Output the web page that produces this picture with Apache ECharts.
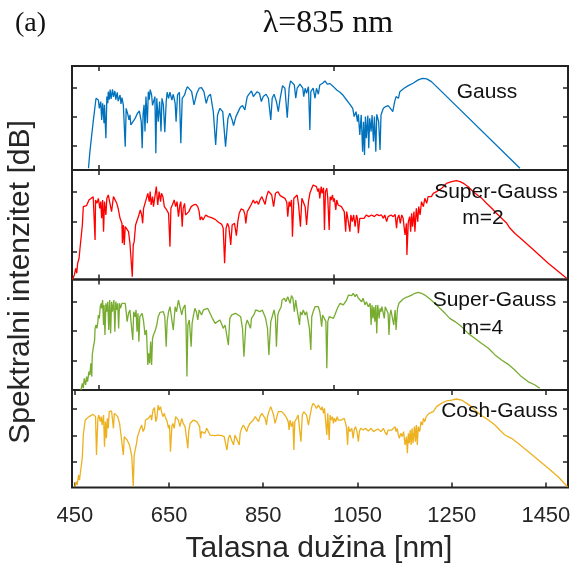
<!DOCTYPE html>
<html><head><meta charset="utf-8">
<script src="https://cdn.jsdelivr.net/npm/echarts@6.0.0/dist/echarts.min.js"></script>
<style>html,body{margin:0;padding:0;background:#fff}#c{width:576px;height:570px}</style>
</head><body><div id="c"></div><script>
// ---- axis values ----
const xMin = 444, xMax = 1497;
const xTicksInner = [500, 1000];
const xTickLabels = [450, 650, 850, 1050, 1250, 1450];
const yTicks = [-20, -40, -60];
const yRangeGauss = [-77, -4.5];
const yRangeSG2 = [-78, -5.7];
const yRangeSG4 = [-79.9, -4.95];
const yRangeCosh = [-79.7, -5.55];

// ---- series values [wavelength nm, intensity dB] ----
const gauss = [[479,-75.8],[482,-64.2],[489,-43.3],[495,-27.0],[500,-28.2],[502,-34.0],[505,-29.3],[507,-42.1],[509,-30.5],[512,-44.4],[513,-31.6],[516,-54.9],[518,-25.8],[520,-30.5],[521,-22.4],[523,-28.0],[525,-21.0],[527,-27.5],[530,-20.7],[532,-26.0],[535,-21.9],[537,-28.0],[540,-22.8],[542,-29.0],[546,-24.7],[548,-31.0],[550,-26.5],[553,-31.6],[557,-60.7],[559,-34.0],[562,-37.5],[565,-42.1],[567,-38.6],[569,-45.6],[573,-44.4],[578,-41.0],[583,-37.5],[587,-35.8],[591,-43.3],[593,-61.8],[595,-37.5],[597,-31.6],[599,-50.2],[601,-25.8],[604,-44.4],[606,-22.4],[608,-28.0],[610,-21.0],[613,-24.7],[615,-32.0],[617,-31.6],[620,-25.8],[622,-65.3],[624,-27.0],[627,-43.3],[630,-29.3],[633,-50.2],[635,-27.0],[638,-31.6],[641,-50.7],[644,-29.3],[646,-22.8],[649,-27.0],[652,-22.8],[656,-28.2],[659,-24.2],[663,-30.5],[665,-43.3],[668,-24.7],[672,-22.8],[675,-58.4],[678,-27.0],[683,-24.7],[686,-21.2],[689,-18.9],[693,-18.2],[698,-22.4],[703,-31.6],[709,-23.5],[714,-20.0],[719,-19.6],[724,-22.4],[729,-30.5],[733,-25.8],[738,-24.2],[744,-36.3],[749,-59.5],[753,-38.6],[758,-34.0],[764,-36.3],[770,-60.7],[775,-41.0],[779,-37.5],[784,-42.1],[787,-46.0],[792,-39.8],[801,-33.5],[806,-32.1],[811,-35.1],[816,-25.8],[820,-24.7],[825,-21.9],[829,-25.8],[833,-25.8],[837,-22.4],[842,-23.5],[846,-29.3],[850,-25.8],[856,-24.2],[861,-27.0],[866,-42.1],[869,-27.0],[873,-24.2],[878,-29.3],[882,-36.3],[886,-27.0],[891,-18.2],[896,-20.0],[901,-40.5],[905,-20.0],[908,-14.9],[912,-15.4],[916,-17.7],[919,-27.0],[922,-20.0],[928,-17.2],[934,-20.0],[936,-25.8],[939,-20.0],[942,-23.5],[946,-18.9],[949,-49.1],[951,-22.4],[956,-20.0],[960,-27.0],[963,-20.0],[967,-24.2],[970,-17.7],[976,-16.5],[981,-14.9],[986,-17.2],[992,-16.8],[999,-18.9],[1006,-21.2],[1013,-22.8],[1020,-25.1],[1027,-28.2],[1034,-31.2],[1040,-34.0],[1043,-39.8],[1047,-36.3],[1050,-43.3],[1052,-38.2],[1055,-52.6],[1058,-38.6],[1061,-64.2],[1063,-43.3],[1065,-66.5],[1067,-39.8],[1069,-54.9],[1072,-39.1],[1074,-61.8],[1076,-41.0],[1079,-50.2],[1081,-38.6],[1084,-57.2],[1086,-39.8],[1089,-64.2],[1091,-38.2],[1095,-43.3],[1098,-63.0],[1100,-38.6],[1105,-34.0],[1110,-32.8],[1115,-32.1],[1120,-34.0],[1125,-36.3],[1129,-29.3],[1132,-25.8],[1137,-27.0],[1140,-22.4],[1144,-23.5],[1149,-20.0],[1158,-18.2],[1168,-16.5],[1179,-14.2],[1188,-13.1],[1197,-13.5],[1207,-15.4],[1218,-18.9],[1395,-75.8]];

const superGauss2 = [[445,-78],[449,-75.0],[452,-70.6],[454,-73.9],[456,-67.3],[459,-64.0],[461,-57.4],[463,-56.3],[466,-42.0],[468,-29.9],[472,-28.8],[475,-29.2],[480,-25.5],[484,-24.4],[489,-23.3],[492,-24.4],[493,-51.9],[494,-25.5],[497,-27.7],[500,-24.4],[503,-31.0],[505,-26.6],[507,-37.6],[509,-25.5],[511,-46.4],[513,-26.6],[516,-35.4],[518,-24.4],[521,-22.2],[525,-21.8],[528,-33.2],[532,-23.3],[535,-24.4],[539,-27.7],[542,-31.0],[546,-37.6],[550,-40.9],[551,-54.1],[553,-42.0],[555,-55.2],[557,-43.1],[560,-44.2],[564,-46.4],[567,-54.1],[571,-53.0],[572,-76.1],[574,-55.2],[576,-53.0],[579,-42.0],[583,-40.9],[586,-35.4],[589,-32.1],[592,-35.4],[594,-40.9],[596,-31.0],[599,-27.7],[602,-28.8],[605,-21.1],[608,-26.6],[610,-20.0],[612,-28.8],[615,-23.3],[617,-29.9],[620,-23.3],[623,-16.7],[626,-28.8],[629,-20.0],[632,-26.6],[634,-21.1],[637,-23.3],[640,-29.9],[645,-32.1],[649,-34.3],[652,-56.3],[654,-31.0],[657,-28.8],[661,-25.5],[664,-29.9],[667,-26.6],[670,-36.5],[673,-28.8],[675,-26.6],[678,-43.1],[680,-31.0],[683,-27.7],[685,-35.4],[689,-36.5],[692,-33.2],[697,-29.9],[702,-28.8],[707,-28.4],[711,-29.9],[714,-33.2],[716,-38.7],[719,-36.5],[722,-38.7],[725,-37.6],[728,-35.4],[731,-34.3],[733,-36.5],[740,-37.2],[748,-38.3],[755,-40.2],[762,-41.6],[765,-44.2],[768,-67.3],[771,-44.2],[774,-40.9],[777,-43.1],[781,-55.2],[784,-42.0],[789,-40.9],[793,-49.0],[796,-39.8],[799,-34.3],[803,-31.4],[808,-32.1],[811,-35.0],[813,-40.9],[816,-33.2],[820,-31.0],[824,-28.8],[829,-25.5],[832,-27.7],[836,-26.2],[840,-28.4],[843,-25.5],[847,-23.3],[851,-24.4],[854,-28.4],[857,-23.3],[861,-19.6],[865,-18.9],[868,-22.2],[872,-29.9],[876,-21.1],[881,-20.0],[886,-22.6],[890,-23.3],[896,-24.4],[900,-27.0],[902,-36.5],[905,-26.6],[907,-29.9],[910,-25.5],[912,-49.7],[915,-24.4],[919,-23.3],[922,-22.2],[925,-28.8],[929,-43.1],[932,-24.4],[935,-25.5],[939,-29.9],[942,-42.0],[946,-26.6],[949,-21.1],[953,-17.8],[956,-15.6],[960,-16.7],[963,-16.7],[966,-20.0],[968,-17.8],[970,-24.4],[973,-16.7],[975,-21.1],[978,-17.4],[980,-45.3],[982,-20.0],[985,-17.8],[987,-24.4],[990,-45.3],[992,-23.3],[994,-25.5],[997,-22.2],[999,-26.6],[1001,-24.4],[1004,-32.1],[1006,-25.5],[1009,-28.8],[1013,-27.7],[1016,-29.9],[1020,-31.0],[1022,-33.2],[1025,-46.4],[1027,-33.2],[1029,-36.5],[1032,-35.4],[1034,-46.4],[1036,-35.4],[1039,-39.8],[1042,-35.4],[1045,-43.1],[1048,-35.4],[1050,-37.6],[1052,-47.5],[1055,-37.6],[1059,-36.5],[1064,-37.6],[1069,-35.4],[1074,-36.5],[1080,-35.4],[1086,-36.5],[1091,-35.0],[1096,-35.8],[1101,-35.4],[1105,-37.6],[1108,-35.4],[1112,-39.8],[1115,-36.5],[1121,-35.4],[1126,-36.5],[1130,-35.0],[1133,-44.2],[1135,-37.6],[1138,-35.4],[1141,-40.9],[1144,-35.4],[1147,-37.6],[1151,-48.6],[1154,-40.9],[1155,-61.8],[1158,-39.8],[1161,-36.5],[1163,-46.4],[1165,-34.3],[1167,-43.1],[1170,-33.2],[1172,-46.4],[1175,-31.0],[1178,-39.8],[1180,-29.9],[1183,-35.4],[1186,-26.6],[1190,-29.9],[1193,-24.4],[1197,-27.7],[1200,-23.3],[1204,-24.4],[1207,-23.3],[1211,-21.1],[1218,-20.0],[1229,-17.8],[1239,-14.5],[1250,-13.4],[1260,-12.7],[1268,-13.4],[1275,-14.5],[1285,-16.7],[1296,-20.0],[1306,-22.6],[1314,-24.4],[1324,-27.7],[1335,-31.0],[1345,-34.3],[1356,-37.6],[1367,-40.9],[1374,-44.2],[1384,-47.5],[1398,-51.2],[1420,-57.4],[1455,-67.3],[1494,-77.2]];

const superGauss4 = [[463,-79.9],[466,-75.4],[468,-78.7],[470,-72.0],[473,-76.5],[475,-70.8],[477,-74.2],[480,-67.4],[482,-69.7],[484,-61.8],[486,-70.8],[487,-56.1],[489,-51.6],[492,-46.0],[493,-38.1],[495,-35.8],[497,-38.1],[499,-33.5],[500,-29.0],[502,-31.3],[504,-23.4],[506,-21.1],[507,-24.5],[509,-18.9],[511,-35.8],[512,-22.2],[514,-42.6],[516,-21.1],[518,-26.8],[520,-20.0],[522,-39.2],[524,-18.9],[526,-41.5],[528,-20.0],[530,-26.8],[533,-18.9],[535,-40.3],[537,-20.0],[539,-25.6],[541,-21.1],[543,-38.1],[545,-21.1],[547,-24.5],[550,-21.1],[553,-22.2],[557,-21.1],[559,-26.8],[561,-33.5],[564,-27.9],[567,-25.6],[571,-24.5],[573,-46.0],[575,-26.8],[578,-30.2],[580,-25.6],[582,-40.3],[584,-27.9],[586,-47.1],[588,-30.2],[591,-29.0],[593,-27.9],[596,-33.5],[599,-42.6],[602,-39.2],[605,-62.9],[607,-55.0],[609,-61.8],[611,-47.1],[613,-62.9],[615,-44.8],[617,-42.6],[620,-40.3],[624,-35.8],[627,-30.2],[631,-27.2],[634,-27.9],[638,-26.8],[641,-30.2],[644,-50.5],[646,-33.5],[649,-26.8],[652,-23.4],[656,-24.5],[659,-39.2],[663,-23.4],[666,-26.8],[670,-18.9],[673,-20.0],[677,-29.0],[680,-24.5],[684,-22.2],[686,-33.5],[688,-70.8],[690,-35.8],[693,-32.4],[695,-31.3],[697,-50.5],[699,-34.7],[702,-29.0],[705,-24.5],[708,-26.8],[711,-32.4],[714,-25.6],[716,-24.5],[719,-29.0],[723,-25.6],[726,-24.5],[732,-24.5],[737,-27.9],[742,-31.3],[748,-34.7],[753,-33.5],[758,-32.4],[762,-35.3],[765,-38.1],[769,-35.8],[772,-36.9],[776,-49.4],[779,-31.3],[783,-29.0],[787,-28.6],[791,-27.9],[797,-29.0],[802,-30.2],[806,-38.1],[809,-57.3],[813,-35.8],[816,-32.4],[820,-33.5],[823,-38.1],[825,-31.3],[830,-29.0],[834,-25.6],[838,-24.5],[843,-26.8],[848,-25.6],[852,-26.8],[855,-31.3],[859,-38.1],[862,-56.1],[866,-33.5],[869,-30.2],[873,-25.6],[876,-31.3],[878,-50.5],[881,-29.0],[883,-26.8],[888,-23.4],[890,-18.9],[895,-17.7],[898,-20.0],[902,-16.6],[905,-17.7],[907,-21.1],[910,-15.9],[913,-17.7],[916,-26.8],[919,-18.9],[922,-25.6],[924,-26.8],[927,-35.8],[929,-26.8],[932,-29.0],[935,-25.6],[939,-29.0],[942,-26.8],[946,-27.9],[948,-38.1],[951,-52.8],[953,-30.2],[956,-26.8],[960,-23.4],[963,-24.5],[967,-23.4],[970,-26.8],[972,-31.3],[974,-36.9],[976,-29.0],[980,-30.2],[983,-33.5],[985,-65.2],[987,-33.5],[990,-30.2],[994,-29.0],[999,-31.3],[1002,-29.0],[1006,-25.6],[1009,-23.4],[1013,-21.1],[1016,-20.0],[1020,-22.2],[1023,-23.4],[1027,-18.9],[1031,-15.5],[1034,-14.3],[1038,-15.9],[1041,-14.3],[1045,-16.6],[1048,-15.0],[1052,-17.7],[1055,-16.6],[1059,-20.0],[1062,-17.7],[1066,-22.2],[1069,-20.0],[1073,-23.4],[1077,-21.1],[1079,-35.8],[1081,-22.2],[1083,-31.3],[1085,-23.4],[1087,-33.5],[1089,-22.2],[1091,-41.5],[1093,-22.2],[1096,-31.3],[1098,-24.5],[1100,-26.8],[1102,-23.4],[1105,-22.2],[1107,-31.3],[1109,-23.4],[1112,-24.5],[1115,-27.9],[1117,-42.6],[1119,-29.0],[1121,-25.6],[1124,-24.5],[1127,-35.8],[1130,-25.6],[1132,-39.2],[1135,-24.5],[1138,-21.1],[1142,-20.0],[1147,-18.2],[1152,-17.3],[1158,-16.6],[1165,-15.5],[1172,-14.3],[1179,-13.7],[1186,-14.3],[1193,-15.5],[1204,-18.2],[1214,-21.1],[1225,-24.5],[1236,-27.9],[1246,-31.3],[1257,-33.5],[1271,-36.9],[1285,-41.5],[1299,-44.8],[1313,-48.2],[1328,-51.6],[1342,-56.1],[1356,-59.5],[1370,-62.5],[1384,-66.3],[1398,-70.8],[1412,-74.2],[1427,-76.5],[1437,-78.7]];

const coshGauss = [[450,-79.1],[453,-75.3],[455,-77.8],[458,-70.2],[460,-74.0],[462,-67.7],[464,-62.6],[466,-56.3],[468,-39.8],[472,-28.4],[475,-27.1],[480,-25.8],[484,-24.6],[489,-24.1],[493,-23.3],[494,-25.8],[496,-55.0],[499,-27.1],[501,-24.6],[504,-29.6],[506,-25.8],[508,-32.2],[511,-24.6],[513,-48.6],[515,-29.6],[517,-42.3],[519,-27.1],[521,-34.7],[523,-22.0],[525,-23.3],[528,-21.5],[532,-34.7],[534,-23.3],[537,-22.0],[541,-25.8],[545,-30.9],[548,-39.8],[551,-38.5],[553,-55.0],[555,-41.0],[558,-39.8],[561,-43.6],[564,-42.3],[566,-47.4],[569,-52.5],[571,-56.3],[574,-79.1],[576,-55.0],[578,-53.7],[581,-46.1],[583,-41.0],[586,-39.8],[589,-34.7],[592,-32.2],[595,-37.2],[598,-34.7],[600,-28.4],[603,-29.6],[606,-27.1],[609,-25.8],[611,-24.6],[613,-28.4],[616,-20.8],[619,-19.0],[622,-29.6],[624,-27.1],[627,-17.0],[629,-20.8],[632,-18.2],[634,-22.0],[637,-25.8],[640,-23.3],[643,-27.1],[646,-29.6],[649,-34.7],[651,-32.2],[653,-52.5],[656,-33.4],[658,-30.9],[661,-34.7],[664,-25.8],[667,-25.8],[670,-28.4],[673,-33.4],[677,-27.1],[680,-30.9],[684,-33.4],[687,-34.7],[690,-49.9],[692,-36.0],[695,-30.9],[698,-29.6],[702,-28.4],[705,-27.1],[709,-29.6],[712,-29.6],[715,-33.4],[717,-42.3],[719,-37.2],[723,-37.2],[726,-38.5],[730,-34.7],[733,-36.0],[737,-39.8],[741,-39.8],[748,-40.3],[755,-39.8],[762,-40.3],[767,-41.0],[770,-42.3],[773,-51.2],[776,-42.3],[779,-39.8],[782,-38.5],[784,-44.8],[787,-47.4],[790,-39.8],[793,-42.3],[796,-41.0],[799,-47.4],[801,-38.5],[804,-34.7],[808,-32.2],[811,-32.2],[815,-37.2],[818,-33.4],[822,-30.9],[825,-29.6],[829,-28.4],[833,-25.8],[836,-27.1],[840,-29.6],[843,-25.8],[847,-23.3],[850,-22.0],[854,-27.1],[857,-32.2],[859,-25.8],[862,-22.0],[866,-18.2],[869,-19.5],[872,-24.6],[875,-30.9],[878,-27.1],[882,-22.0],[886,-20.8],[889,-22.0],[893,-23.3],[896,-24.6],[900,-27.1],[903,-29.6],[905,-36.0],[907,-28.4],[910,-33.4],[913,-29.6],[915,-51.2],[917,-29.6],[921,-27.1],[924,-24.6],[928,-25.8],[930,-44.8],[933,-24.6],[936,-22.0],[939,-21.5],[942,-24.6],[946,-32.2],[949,-25.8],[953,-18.2],[956,-15.7],[960,-17.5],[963,-19.5],[967,-17.0],[970,-18.2],[973,-20.8],[975,-18.2],[978,-23.3],[980,-19.5],[982,-27.1],[985,-39.8],[987,-23.3],[990,-43.6],[992,-24.6],[994,-28.4],[997,-25.8],[999,-30.9],[1001,-27.1],[1004,-29.6],[1007,-25.8],[1009,-28.4],[1013,-27.1],[1016,-28.4],[1020,-29.6],[1022,-27.1],[1025,-30.9],[1027,-34.7],[1029,-47.4],[1031,-33.4],[1034,-37.2],[1038,-34.7],[1041,-42.3],[1043,-36.0],[1046,-33.4],[1049,-37.2],[1052,-44.8],[1054,-37.2],[1057,-34.7],[1062,-36.0],[1067,-34.7],[1073,-36.7],[1079,-34.7],[1084,-37.2],[1089,-36.0],[1094,-35.2],[1100,-37.2],[1105,-34.7],[1108,-37.2],[1112,-39.8],[1115,-36.0],[1119,-37.2],[1123,-36.0],[1126,-34.7],[1130,-33.4],[1132,-37.2],[1134,-34.7],[1137,-39.8],[1139,-42.3],[1142,-38.5],[1145,-41.0],[1148,-37.2],[1151,-47.4],[1154,-41.0],[1156,-53.7],[1158,-38.5],[1160,-46.1],[1162,-36.0],[1164,-47.4],[1166,-34.7],[1168,-46.1],[1171,-33.4],[1173,-44.8],[1175,-32.2],[1177,-47.4],[1179,-33.4],[1182,-37.2],[1185,-29.6],[1188,-32.2],[1190,-27.1],[1193,-29.6],[1196,-25.8],[1199,-27.1],[1202,-23.3],[1206,-24.6],[1211,-22.0],[1218,-18.2],[1225,-16.5],[1232,-14.9],[1239,-13.9],[1250,-13.2],[1260,-12.4],[1271,-13.2],[1282,-15.7],[1292,-18.2],[1303,-22.0],[1314,-25.1],[1328,-28.4],[1342,-32.2],[1352,-36.0],[1363,-39.8],[1377,-42.3],[1391,-46.1],[1413,-52.5],[1434,-58.8],[1455,-65.1],[1476,-71.5],[1496,-79.1]];

const panelLabels = [['Gauss'], ['Super-Gauss', 'm=2'], ['Super-Gauss', 'm=4'], ['Cosh-Gauss']];

// ---- layout / styles ----
const panels = [
  {data: gauss, range: yRangeGauss, color: '#0072BD', top: 66, height: 104},
  {data: superGauss2, range: yRangeSG2, color: '#FF0000', top: 170, height: 109.5},
  {data: superGauss4, range: yRangeSG4, color: '#77AC30', top: 279.5, height: 110.5},
  {data: coshGauss, range: yRangeCosh, color: '#EDB120', top: 390, height: 97.5}
];
const labelPos = [
  [[487, 92]],
  [[496, 192], [483, 218]],
  [[494.5, 300], [482.5, 328]],
  [[499.5, 411]]
];
const SANS = 'Liberation Sans, Arial, sans-serif';
const SERIF = 'Liberation Serif, Times New Roman, serif';

const grid = [], xAxis = [], yAxis = [], series = [], graphic = [];
panels.forEach((p, i) => {
  const last = i === panels.length - 1;
  grid.push({left: 72, top: p.top, width: 496, height: p.height, show: true,
    borderColor: '#222', borderWidth: 2, backgroundColor: 'transparent'});
  const tick = (vals) => ({show: true, inside: true, length: 5, customValues: vals,
    lineStyle: {color: '#222', width: 1.5}});
  const xTicks = last ? xTickLabels : xTicksInner;
  xAxis.push({type: 'value', gridIndex: i, min: xMin, max: xMax, position: 'bottom',
    axisLine: {show: false}, splitLine: {show: false}, axisTick: tick(xTicks),
    axisLabel: last ? {show: true, customValues: xTickLabels, fontSize: 22, fontFamily: SANS,
      color: '#262626', margin: 17, formatter: v => String(v)} : {show: false}});
  xAxis.push({type: 'value', gridIndex: i, min: xMin, max: xMax, position: 'top',
    axisLine: {show: false}, splitLine: {show: false}, axisTick: tick(xTicks),
    axisLabel: {show: false}});
  ['left', 'right'].forEach(pos => yAxis.push({type: 'value', gridIndex: i,
    min: p.range[0], max: p.range[1], position: pos, axisLine: {show: false},
    splitLine: {show: false}, axisTick: tick(yTicks), axisLabel: {show: false}}));
  series.push({type: 'line', name: panelLabels[i].join(' '), xAxisIndex: 2 * i, yAxisIndex: 2 * i,
    data: p.data, showSymbol: false, symbol: 'none', clip: true,
    lineStyle: {color: p.color, width: 1.3}, itemStyle: {color: p.color}, z: 3});
  panelLabels[i].forEach((t, k) => graphic.push({type: 'text', z: 100,
    x: labelPos[i][k][0], y: labelPos[i][k][1],
    style: {text: t, font: '21px ' + SANS, fill: '#111', align: 'center', verticalAlign: 'middle',
      textAlign: 'center', textVerticalAlign: 'middle'}}));
});

graphic.push({type: 'text', x: 15, y: 24, z: 100,
  style: {text: '(a)', font: '28px ' + SERIF, fill: '#111', align: 'left', verticalAlign: 'middle',
    textAlign: 'left', textVerticalAlign: 'middle'}});
graphic.push({type: 'text', x: 328, y: 24, z: 100,
  style: {text: 'λ=835 nm', font: '32px ' + SERIF, fill: '#111', align: 'center', verticalAlign: 'middle',
    textAlign: 'center', textVerticalAlign: 'middle'}});
graphic.push({type: 'text', x: 319, y: 549, z: 100,
  style: {text: 'Talasna dužina [nm]', font: '30px ' + SANS, fill: '#262626', align: 'center',
    verticalAlign: 'middle', textAlign: 'center', textVerticalAlign: 'middle'}});
graphic.push({type: 'text', x: 21, y: 282, rotation: Math.PI / 2, z: 100,
  style: {text: 'Spektralni intenzitet [dB]', font: '30px ' + SANS, fill: '#262626', align: 'center',
    verticalAlign: 'middle', textAlign: 'center', textVerticalAlign: 'middle'}});

const chart = echarts.init(document.getElementById('c'), null, {renderer: 'canvas'});
chart.setOption({animation: false, backgroundColor: '#fff', grid, xAxis, yAxis, series, graphic});
</script></body></html>
